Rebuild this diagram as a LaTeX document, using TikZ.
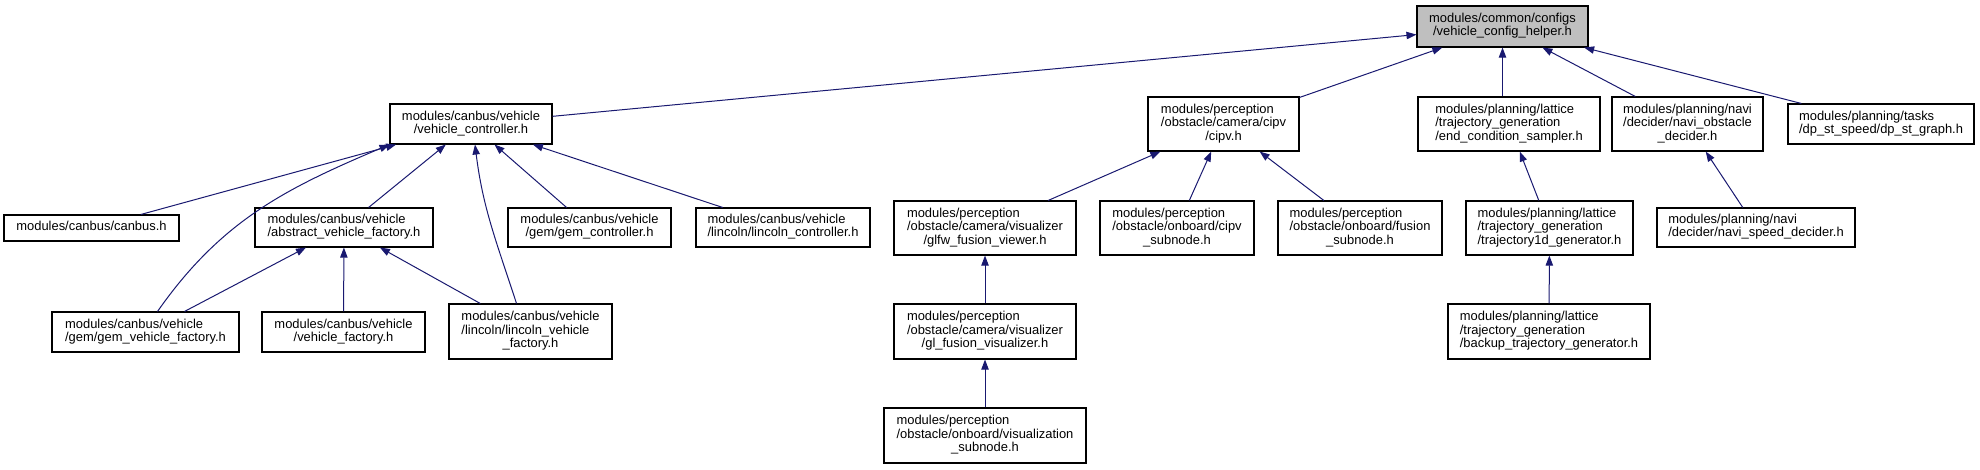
\documentclass[tikz,border=0pt]{standalone}
\usepackage{fontspec}
\setmainfont{Liberation Sans}
\usetikzlibrary{arrows.meta,calc}
\definecolor{edgeblue}{HTML}{191970}
\definecolor{rootgray}{HTML}{BFBFBF}
\newcommand\flines[1]{\begin{tabular}{@{}l@{}}#1\end{tabular}}
\newcommand\lastln[1]{\multicolumn{1}{@{}c@{}}{#1}}
\tikzset{
  file/.style={draw=black,line width=0.8pt,fill=white,inner sep=0pt,
    font=\fontsize{9.7}{10}\selectfont},
  sz/.style 2 args={minimum width=#1*0.75pt,minimum height=#2*0.75pt},
  dep/.style={->,draw=edgeblue,line width=0.75pt}
}
\begin{document}
\begin{tikzpicture}[x=0.75pt,y=0.75pt,>={Triangle[length=7.5pt,width=5.5pt]}]
  \useasboundingbox (0,0) rectangle (1980,-469);
  \node[file,sz={171}{41},fill=rootgray] (root) at (1502.5,-26.5){\flines{modules/common/configs\\\lastln{/vehicle\_config\_helper.h}}};
  \node[file,sz={162}{40}] (vctrl) at (471,-124){\flines{modules/canbus/vehicle\\\lastln{/vehicle\_controller.h}}};
  \node[file,sz={175}{26}] (canbus) at (91.5,-228){\flines{modules/canbus/canbus.h}};
  \node[file,sz={178}{39}] (absfac) at (344,-227.5){\flines{modules/canbus/vehicle\\\lastln{/abstract\_vehicle\_factory.h}}};
  \node[file,sz={163}{39}] (gemctrl) at (589.5,-227.5){\flines{modules/canbus/vehicle\\\lastln{/gem/gem\_controller.h}}};
  \node[file,sz={174}{39}] (lincctrl) at (783,-227.5){\flines{modules/canbus/vehicle\\\lastln{/lincoln/lincoln\_controller.h}}};
  \node[file,sz={187}{40}] (gemfac) at (145.5,-332){\flines{modules/canbus/vehicle\\\lastln{/gem/gem\_vehicle\_factory.h}}};
  \node[file,sz={163}{40}] (vehfac) at (343.5,-332){\flines{modules/canbus/vehicle\\\lastln{/vehicle\_factory.h}}};
  \node[file,sz={163}{55}] (lincfac) at (530.5,-331.5){\flines{modules/canbus/vehicle\\/lincoln/lincoln\_vehicle\\\lastln{\_factory.h}}};

  \node[file,sz={151}{54}] (cipv) at (1223.5,-124){\flines{modules/perception\\/obstacle/camera/cipv\\\lastln{/cipv.h}}};
  \node[file,sz={182}{54}] (glfw) at (985,-228){\flines{modules/perception\\/obstacle/camera/visualizer\\\lastln{/glfw\_fusion\_viewer.h}}};
  \node[file,sz={154}{54}] (cipvsub) at (1177,-228){\flines{modules/perception\\/obstacle/onboard/cipv\\\lastln{\_subnode.h}}};
  \node[file,sz={164}{54}] (fusionsub) at (1360,-228){\flines{modules/perception\\/obstacle/onboard/fusion\\\lastln{\_subnode.h}}};
  \node[file,sz={182}{55}] (glvis) at (985,-331.5){\flines{modules/perception\\/obstacle/camera/visualizer\\\lastln{/gl\_fusion\_visualizer.h}}};
  \node[file,sz={202}{55}] (vissub) at (985,-435.5){\flines{modules/perception\\/obstacle/onboard/visualization\\\lastln{\_subnode.h}}};

  \node[file,sz={182}{54}] (endcond) at (1509,-124){\flines{modules/planning/lattice\\/trajectory\_generation\\\lastln{/end\_condition\_sampler.h}}};
  \node[file,sz={167}{54}] (traj1d) at (1549.5,-228){\flines{modules/planning/lattice\\/trajectory\_generation\\\lastln{/trajectory1d\_generator.h}}};
  \node[file,sz={202}{55}] (backup) at (1549,-331.5){\flines{modules/planning/lattice\\/trajectory\_generation\\\lastln{/backup\_trajectory\_generator.h}}};
  \node[file,sz={151}{54}] (naviobs) at (1687.5,-124){\flines{modules/planning/navi\\/decider/navi\_obstacle\\\lastln{\_decider.h}}};
  \node[file,sz={198}{39}] (navispd) at (1756,-227.5){\flines{modules/planning/navi\\\lastln{/decider/navi\_speed\_decider.h}}};
  \node[file,sz={186}{40}] (dpst) at (1881,-124){\flines{modules/planning/tasks\\\lastln{/dp\_st\_speed/dp\_st\_graph.h}}};

  \foreach \a/\b in {vctrl/root,cipv/root,naviobs/root,dpst/root,
    canbus/vctrl,absfac/vctrl,gemctrl/vctrl,lincctrl/vctrl,
    gemfac/absfac,vehfac/absfac,lincfac/absfac,
    glfw/cipv,cipvsub/cipv,fusionsub/cipv,glvis/glfw,vissub/glvis,
    traj1d/endcond,backup/traj1d,navispd/naviobs}
    \draw[dep] (\a) -- (\b);
  \draw[dep] (root.south |- endcond.north) -- (root.south);
  \draw[dep] ($(gemfac.north)+(12,0)$) to[out=55,in=203] (vctrl.south west);
  \draw[dep] ($(lincfac.north)+(-14,0)$) to[out=108,in=-83] ($(vctrl.south)+(4,0)$);
\end{tikzpicture}
\end{document}
